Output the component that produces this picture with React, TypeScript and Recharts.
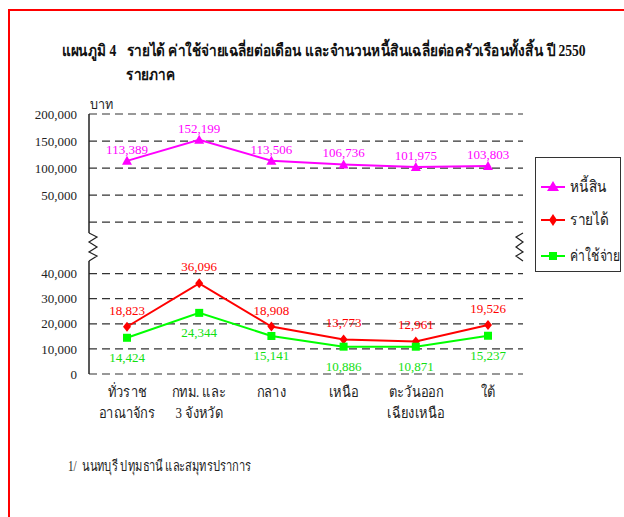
import React from 'react';
import { LineChart, Line, XAxis, YAxis, ReferenceLine, LabelList } from 'recharts';

const categories = ['ทั่วราช\nอาณาจักร', 'กทม. และ\n3 จังหวัด', 'กลาง', 'เหนือ', 'ตะวันออก\nเฉียงเหนือ', 'ใต้'];
const debt = [113389, 152199, 113506, 106736, 101975, 103803];
const income = [18823, 36096, 18908, 13773, 12961, 19526];
const expense = [14424, 24344, 15141, 10886, 10871, 15237];
const upperTicks = [0, 50000, 100000, 150000, 200000];
const lowerTicks = [0, 10000, 20000, 30000, 40000];

const data = categories.map((name, i) => ({
  name,
  debt: debt[i],
  income: income[i],
  expense: expense[i],
}));

const MAGENTA = '#ff00ff';
const RED = '#ff0000';
const GREEN = '#00ff00';
const GRID = '#333333';
const SERIF = '"Liberation Serif", "Times New Roman", serif';

const fmt = (v: any) => Number(v).toLocaleString('en-US');

const Triangle = (p: any) => {
  const { cx, cy } = p;
  if (cx == null || cy == null) return null;
  return <polygon points={`${cx},${cy - 5} ${cx - 5},${cy + 4} ${cx + 5},${cy + 4}`} fill={MAGENTA} />;
};
const Diamond = (p: any) => {
  const { cx, cy } = p;
  if (cx == null || cy == null) return null;
  return <polygon points={`${cx},${cy - 5} ${cx + 4},${cy} ${cx},${cy + 5} ${cx - 4},${cy}`} fill={RED} />;
};
const Square = (p: any) => {
  const { cx, cy } = p;
  if (cx == null || cy == null) return null;
  return <rect x={cx - 4} y={cy - 4} width={8} height={8} fill={GREEN} />;
};

const CatTick = (p: any) => {
  const { x, y, payload } = p;
  const lines = String(payload.value).split('\n');
  return (
    <text transform={`translate(${x},${y}) scale(0.86,1)`} x={0} y={0} textAnchor="middle" fontSize={15} fill="#222">
      {lines.map((l, i) => (
        <tspan key={i} x={0} dy={i === 0 ? 15 : 21}>{l}</tspan>
      ))}
    </text>
  );
};

const xPad = { left: 38, right: 35 };
const squeeze = (s: number): React.CSSProperties => ({
  display: 'inline-block',
  transform: `scaleX(${s})`,
  transformOrigin: 'left center',
  whiteSpace: 'nowrap',
});

const gridLines = (ticks: number[]) =>
  ticks.map((v) => (
    <ReferenceLine key={v} y={v} stroke={GRID} strokeWidth={1.2} strokeDasharray="8 5" ifOverflow="visible" />
  ));

export default function App() {
  return (
    <div style={{ position: 'absolute', left: 0, top: 0, width: 624, height: 517, overflow: 'hidden', background: '#fff', fontFamily: SERIF }}>
      <div style={{ position: 'absolute', left: 8, top: 9, width: 700, height: 600, border: '2px solid #ff0000' }} />

      <div style={{ position: 'absolute', left: 62, top: 38, fontSize: 16, fontWeight: 'bold', color: '#111' }}>
        <span style={squeeze(0.85)}>แผนภูมิ 4&nbsp;&nbsp; รายได้ ค่าใช้จ่ายเฉลี่ยต่อเดือน และจำนวนหนี้สินเฉลี่ยต่อครัวเรือนทั้งสิ้น ปี 2550</span>
      </div>
      <div style={{ position: 'absolute', left: 126, top: 62, fontSize: 16, fontWeight: 'bold', color: '#111' }}>
        <span style={squeeze(0.85)}>รายภาค</span>
      </div>
      <div style={{ position: 'absolute', left: 90, top: 93, fontSize: 14, color: '#222' }}>
        <span style={squeeze(0.9)}>บาท</span>
      </div>

      {/* upper section: debt */}
      <div style={{ position: 'absolute', left: 0, top: 0 }}>
        <LineChart width={624} height={240} data={data} margin={{ top: 114, right: 101, bottom: 7, left: 0 }}>
          <XAxis dataKey="name" hide padding={xPad} />
          <YAxis
            width={89}
            domain={[-20000, 200000]}
            ticks={upperTicks}
            tickFormatter={(v) => (v === 0 ? '' : fmt(v))}
            tickLine={false}
            tickMargin={6}
            axisLine={{ stroke: '#222', strokeWidth: 1.5 }}
            tick={{ fontSize: 13, fill: '#222', fontFamily: SERIF }}
          />
          <YAxis yAxisId="r" orientation="right" width={0} domain={[-20000, 200000]} ticks={upperTicks} tick={false} tickLine={false} axisLine={{ stroke: '#222', strokeWidth: 1.5 }} />
          {gridLines(upperTicks)}
          <Line dataKey="debt" stroke={MAGENTA} strokeWidth={2} dot={<Triangle />} activeDot={false} isAnimationActive={false}>
            <LabelList dataKey="debt" position="top" offset={7} formatter={fmt} fill={MAGENTA} fontSize={13} fontFamily={SERIF} />
          </Line>
        </LineChart>
      </div>

      {/* lower section: income & expense */}
      <div style={{ position: 'absolute', left: 0, top: 0 }}>
        <LineChart width={624} height={430} data={data} margin={{ top: 261, right: 101, bottom: 0, left: 0 }}>
          <XAxis dataKey="name" padding={xPad} height={56} axisLine={false} tickLine={false} tick={<CatTick />} interval={0} />
          <YAxis
            width={89}
            domain={[0, 45000]}
            ticks={lowerTicks}
            tickFormatter={fmt}
            tickLine={false}
            tickMargin={6}
            axisLine={{ stroke: '#222', strokeWidth: 1.5 }}
            tick={{ fontSize: 13, fill: '#222', fontFamily: SERIF }}
          />
          <YAxis yAxisId="r" orientation="right" width={0} domain={[0, 45000]} ticks={lowerTicks} tick={false} tickLine={false} axisLine={{ stroke: '#222', strokeWidth: 1.5 }} />
          {gridLines(lowerTicks)}
          <Line dataKey="income" stroke={RED} strokeWidth={2} dot={<Diamond />} activeDot={false} isAnimationActive={false}>
            <LabelList dataKey="income" position="top" offset={12} formatter={fmt} fill={RED} fontSize={13} fontFamily={SERIF} />
          </Line>
          <Line dataKey="expense" stroke={GREEN} strokeWidth={2} dot={<Square />} activeDot={false} isAnimationActive={false}>
            <LabelList dataKey="expense" position="bottom" offset={15} formatter={fmt} fill="#11e011" fontSize={13} fontFamily={SERIF} />
          </Line>
        </LineChart>
      </div>

      {/* axis break marks */}
      <svg style={{ position: 'absolute', left: 0, top: 0 }} width={624} height={517}>
        <polyline points="89,233 97,237 89,242 97,247 89,252 97,256 89,261" fill="none" stroke="#222" strokeWidth={1.2} />
        <polyline points="523,233 516,237 523,242 516,247 523,252 516,256 523,261" fill="none" stroke="#222" strokeWidth={1.2} />
      </svg>

      {/* legend */}
      <div style={{ position: 'absolute', left: 535, top: 157, width: 86, height: 115, border: '1px solid #333', boxSizing: 'border-box', fontSize: 16, color: '#222' }}>
        <div style={{ position: 'absolute', left: 5, top: 16, display: 'flex', alignItems: 'center', whiteSpace: 'nowrap' }}>
          <svg width={24} height={14}><line x1={0} y1={7} x2={24} y2={7} stroke={MAGENTA} strokeWidth={2} /><polygon points="12,1 6,11 18,11" fill={MAGENTA} /></svg>
          <span style={{ marginLeft: 5, ...squeeze(0.85) }}>หนี้สิน</span>
        </div>
        <div style={{ position: 'absolute', left: 5, top: 49, display: 'flex', alignItems: 'center', whiteSpace: 'nowrap' }}>
          <svg width={24} height={14}><line x1={0} y1={7} x2={24} y2={7} stroke={RED} strokeWidth={2} /><polygon points="12,1 16,7 12,13 8,7" fill={RED} /></svg>
          <span style={{ marginLeft: 5, ...squeeze(0.85) }}>รายได้</span>
        </div>
        <div style={{ position: 'absolute', left: 5, top: 85, display: 'flex', alignItems: 'center', whiteSpace: 'nowrap' }}>
          <svg width={24} height={14}><line x1={0} y1={7} x2={24} y2={7} stroke={GREEN} strokeWidth={2} /><rect x={8} y={3} width={8} height={8} fill={GREEN} /></svg>
          <span style={{ marginLeft: 5, ...squeeze(0.76) }}>ค่าใช้จ่าย</span>
        </div>
      </div>

      <div style={{ position: 'absolute', left: 68, top: 454, fontSize: 15, color: '#222' }}>
        <span style={squeeze(0.74)}>1/&nbsp;&nbsp;นนทบุรี ปทุมธานี และสมุทรปราการ</span>
      </div>
    </div>
  );
}
